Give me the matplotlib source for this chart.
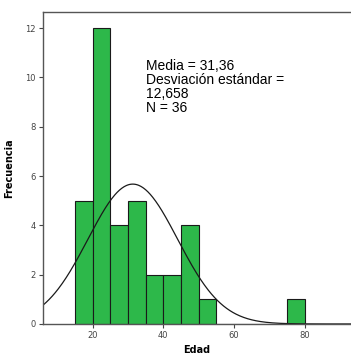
import matplotlib
matplotlib.use("Agg")
import matplotlib.pyplot as plt
import numpy as np

# Histogram data (age bins of width 5)
bin_edges = [15, 20, 25, 30, 35, 40, 45, 50, 55, 60, 65, 70, 75, 80]
counts = [5, 12, 4, 5, 2, 2, 4, 1, 0, 0, 0, 0, 1]

mean_age = 31.36
std_age = 12.658
n_total = 36
bin_width = 5

fig = plt.figure(figsize=(3.51, 3.56), dpi=100)
ax = fig.add_axes([0.1225, 0.09, 0.8775, 0.876])

ax.bar(bin_edges[:-1], counts, width=bin_width, align="edge",
       color="#2db84a", edgecolor="#1a1a1a", linewidth=0.8)

# Normal curve scaled to counts
xs = np.linspace(6, 93, 400)
ys = n_total * bin_width / (std_age * np.sqrt(2 * np.pi)) * np.exp(-0.5 * ((xs - mean_age) / std_age) ** 2)
ax.plot(xs, ys, color="#1a1a1a", linewidth=0.9)

ax.set_xlim(6, 93)
ax.set_ylim(0, 12.65)
ax.set_xticks([20, 40, 60, 80])
ax.set_yticks([0, 2, 4, 6, 8, 10, 12])
ax.tick_params(labelsize=6, colors="#444444", length=3, width=0.8, pad=2)

for side in ["top", "left", "bottom"]:
    ax.spines[side].set_color("#555555")
    ax.spines[side].set_linewidth(1.0)
ax.spines["right"].set_visible(False)

ax.set_xlabel("Edad", fontsize=7, fontweight="bold", labelpad=4)
ax.set_ylabel("Frecuencia", fontsize=7, fontweight="bold", labelpad=8)

ax.text(0.335, 0.85,
        "Media = 31,36\nDesviación estándar =\n12,658\nN = 36",
        transform=ax.transAxes, fontsize=10, va="top", ha="left",
        linespacing=1.0, family="Liberation Sans")

fig.savefig("out.png", dpi=100)
